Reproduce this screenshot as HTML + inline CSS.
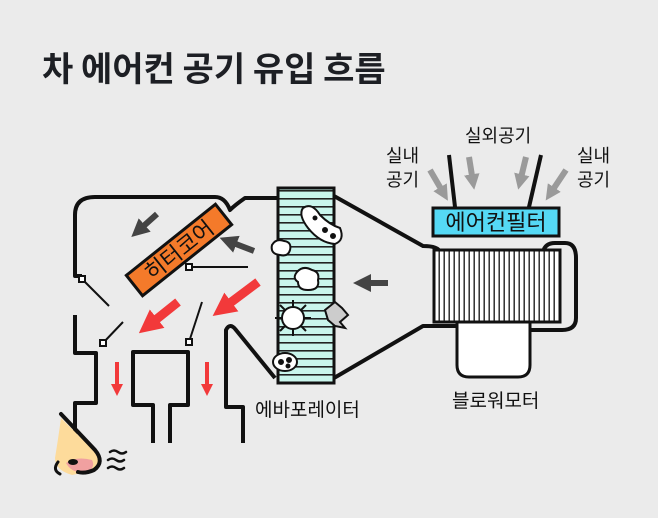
<!DOCTYPE html>
<html><head><meta charset="utf-8"><style>
html,body{margin:0;padding:0;background:#ebebeb;}
svg{display:block}
text{font-family:"Liberation Sans","Noto Sans CJK KR",sans-serif;}
</style></head><body>
<svg width="658" height="518" viewBox="0 0 658 518" xmlns="http://www.w3.org/2000/svg">
<defs>
<pattern id="hstripe" width="10" height="8" patternUnits="userSpaceOnUse"><rect width="10" height="8" fill="#c9f5ec"/><rect y="6" width="10" height="1.6" fill="#222"/></pattern>
<pattern id="vstripe" width="5" height="10" patternUnits="userSpaceOnUse"><rect width="5" height="10" fill="#fff"/><rect x="3.5" width="1.4" height="10" fill="#222"/></pattern>
<marker id="ad" viewBox="0 0 10 10" refX="5" refY="5" markerWidth="3" markerHeight="3" orient="auto"><path d="M0,0L10,5L0,10z" fill="#444"/></marker>
<marker id="ag" viewBox="0 0 10 10" refX="5" refY="5" markerWidth="2.6" markerHeight="2.6" orient="auto"><path d="M0,0L10,5L0,10z" fill="#9a9a9a"/></marker>
<marker id="ar" viewBox="0 0 10 10" refX="5" refY="5" markerWidth="2.6" markerHeight="2.6" orient="auto"><path d="M0,0L10,5L0,10z" fill="#f2393a"/></marker>
<marker id="ar2" viewBox="0 0 10 10" refX="5" refY="5" markerWidth="3" markerHeight="3" orient="auto"><path d="M0,0L10,5L0,10z" fill="#f2393a"/></marker>
</defs>
<text x="42" y="81" font-size="34" font-weight="bold" fill="#1d1f24" style="font-family:'Noto Sans CJK KR',sans-serif">차 에어컨 공기 유입 흐름</text>

<g fill="none" stroke="#111" stroke-width="4" stroke-linejoin="round">
<path d="M82,276 L75,276 L75,215 Q75,197 95,197 L215,197 Q225,197 230,210 Q235,205 245,198 L280,198"/>
<path d="M75,315 L75,353 L96,353 L96,403 L75,403 L75,470"/>
<path d="M153,443 L153,405 L133,405 L133,352 L188,352 L188,405 L170,405 L170,443"/>
<path d="M243,443 L243,407 L226,407 L226,330 Q230,322 236,330 L275,378"/>
<path d="M334,196 L423,246 Q438,246 440,252"/>
<path d="M334,378 L423,326 L460,326"/>
<path d="M543,252 Q545,243 555,243 L565,243 Q576,243 576,258 L576,318 Q576,330 562,330 L530,330"/>
<path d="M455,207 L449,155 M529,207 L541,155"/>
</g>
<rect x="278" y="188" width="56" height="195" fill="url(#hstripe)" stroke="#111" stroke-width="3"/>
<path d="M457,318 L530,318 L530,365 Q530,377 518,377 L469,377 Q457,377 457,365z" fill="#fff" stroke="#111" stroke-width="3"/>
<rect x="434" y="250" width="126" height="72" fill="url(#vstripe)" stroke="#111" stroke-width="3"/>
<rect x="433" y="208" width="126" height="28" fill="#55d9f5" stroke="#111" stroke-width="3"/>
<text x="496" y="230" font-size="22" text-anchor="middle" fill="#111">에어컨필터</text>
<g transform="translate(179,250) rotate(-38.6)">
<rect x="-57" y="-13" width="114" height="26" fill="#f47a2a" stroke="#111" stroke-width="3"/>
<text x="0" y="8" font-size="22" text-anchor="middle" fill="#111">히터코어</text>
</g>
<g stroke="#111" stroke-width="2" fill="#fff">
<line x1="82" y1="279" x2="109" y2="306"/><rect x="79" y="276" width="6" height="6"/>
<line x1="103" y1="343" x2="123" y2="322"/><rect x="100" y="340" width="6" height="6"/>
<line x1="189" y1="342" x2="202" y2="302"/><rect x="186" y="339" width="6" height="6"/>
<line x1="189" y1="267" x2="248" y2="267"/><rect x="186" y="264" width="6" height="6"/>
</g>
<g stroke-width="6" fill="none">
<line x1="157" y1="214" x2="138" y2="231" stroke="#444" marker-end="url(#ad)"/>
<line x1="254" y1="251" x2="228" y2="241" stroke="#444" marker-end="url(#ad)"/>
<line x1="388" y1="283" x2="362" y2="283" stroke="#444" marker-end="url(#ad)"/>
<line x1="178" y1="302" x2="148" y2="326" stroke="#f2393a" stroke-width="9" marker-end="url(#ar)"/>
<line x1="258" y1="282" x2="222" y2="309" stroke="#f2393a" stroke-width="9" marker-end="url(#ar)"/>
<line x1="117" y1="362" x2="117" y2="390" stroke="#f2393a" stroke-width="4" marker-end="url(#ar2)"/>
<line x1="207" y1="362" x2="207" y2="390" stroke="#f2393a" stroke-width="4" marker-end="url(#ar2)"/>
<line x1="430" y1="170" x2="444" y2="194" stroke="#9a9a9a" marker-end="url(#ag)"/>
<line x1="469" y1="157" x2="473" y2="182" stroke="#9a9a9a" marker-end="url(#ag)"/>
<line x1="526" y1="157" x2="520" y2="182" stroke="#9a9a9a" marker-end="url(#ag)"/>
<line x1="566" y1="170" x2="550" y2="194" stroke="#9a9a9a" marker-end="url(#ag)"/>
</g>
<g stroke="#111" stroke-width="2">
<path d="M303,208 Q312,202 320,215 Q330,225 340,228 Q345,240 335,244 Q320,243 308,228 Q298,215 303,208z" fill="#fff"/>
<circle cx="315" cy="218" r="1.5" fill="#111"/><circle cx="325" cy="230" r="2" fill="#111"/><circle cx="333" cy="236" r="2" fill="#111"/>
<path d="M272,245 Q276,238 284,241 Q292,242 290,250 Q288,257 280,255 Q270,254 272,245z" fill="#fff"/>
<path d="M297,272 Q303,265 312,270 Q320,272 318,280 Q320,290 308,290 Q298,290 298,282 Q292,278 297,272z" fill="#fff"/>
<circle cx="293" cy="318" r="11" fill="#fff"/>
<path d="M282,318 L275,318 M304,318 L311,318 M293,307 L293,300 M293,329 L293,336 M285,310 L280,305 M301,326 L306,331 M301,310 L306,305 M285,326 L280,331" fill="none"/>
<path d="M325,310 L335,302 L342,308 L348,315 L340,322 L345,328 L335,326 L328,320z" fill="#ccc"/>
<ellipse cx="285" cy="362" rx="12" ry="9" fill="#fff"/>
<circle cx="281" cy="362" r="2" fill="#111"/><circle cx="289" cy="360" r="2" fill="#111"/><circle cx="288" cy="366" r="1.5" fill="#111"/>
</g>
<path d="M61,418 L95,452 Q102,462 96,470 L72,475 Q55,470 55,458 Q58,440 61,418z" fill="#fddb9b"/>
<path d="M66,463 Q76,456 92,460 Q96,468 86,472 Q72,474 66,463z" fill="#f0a0a0"/>
<ellipse cx="73" cy="462" rx="5" ry="3" fill="#111"/>
<path d="M61,414 L95,450 Q105,462 94,470 Q85,474 78,472" fill="none" stroke="#111" stroke-width="4" stroke-linecap="round"/>
<path d="M58,462 Q52,470 60,474" fill="none" stroke="#111" stroke-width="3" stroke-linecap="round"/>
<g fill="none" stroke="#111" stroke-width="2.5" stroke-linecap="round">
<path d="M110,452 q4,-3 8,0 t8,0"/><path d="M108,460 q4,-3 8,0 t8,0"/><path d="M108,468 q4,-3 8,0 t8,0"/>
</g>
<g font-size="19" fill="#111">
<text x="255" y="416">에바포레이터</text>
<text x="452" y="407">블로워모터</text>
<text x="465" y="142" font-size="18">실외공기</text>
<text x="386" y="162" font-size="18">실내</text><text x="386" y="186" font-size="18">공기</text>
<text x="577" y="162" font-size="18">실내</text><text x="577" y="186" font-size="18">공기</text>
</g>
</svg>
</body></html>
